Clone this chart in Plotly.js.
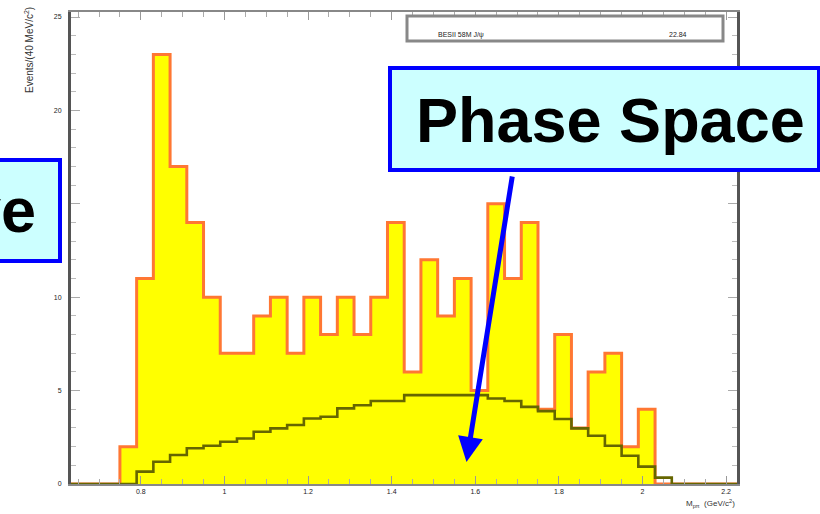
<!DOCTYPE html>
<html>
<head>
<meta charset="utf-8">
<script src="https://cdn.plot.ly/plotly-3.0.1.min.js"></script>
<style>html,body{margin:0;padding:0;background:#fff;}#plot{width:820px;height:514px;}</style>
</head>
<body>
<div id="plot"></div>
<script>
// Binning (GeV): 40 bins of 0.04 starting at 0.63
const binStart = 0.63;
const binWidth = 0.04;
// Data histogram, entries per bin
const dataCounts = [0, 0, 0,
  2, 11, 23, 17, 14, 10, 7, 7, 9, 10, 7, 10, 8, 10, 8, 10, 14, 6,
  12, 9, 11, 5, 15, 11, 14, 4, 8, 3, 6, 7, 2, 4,
  0, 0, 0, 0, 0, 0];
// Phase space expectation per bin
const phaseSpace = [0, 0, 0,
  0, 0.66, 1.19, 1.55, 1.91, 2.05, 2.26, 2.44, 2.80, 2.98, 3.16, 3.51, 3.60, 4.05, 4.22, 4.44, 4.44, 4.76,
  4.76, 4.76, 4.76, 4.76, 4.58, 4.44, 4.13, 3.90, 3.48, 2.98, 2.58, 2.05, 1.51, 0.93, 0.34,
  0, 0, 0, 0, 0];
const xTickVals = [0.8, 1.0, 1.2, 1.4, 1.6, 1.8, 2.0, 2.2];
const xTickText = ['0.8', '1', '1.2', '1.4', '1.6', '1.8', '2', '2.2'];
const yTickVals = [0, 5, 10, 15, 20, 25];
const yTickText = ['0', '5', '10', '15', '20', '25'];

const nb = dataCounts.length;
const edges = [];
for (let i = 0; i <= nb; i++) edges.push(+(binStart + i * binWidth).toFixed(4));

function stepXY(vals) {
  const xs = [edges[0]], ys = [0];
  for (let i = 0; i < vals.length; i++) { xs.push(edges[i]); ys.push(vals[i]); }
  xs.push(edges[vals.length]); ys.push(vals[vals.length - 1]);
  xs.push(edges[vals.length]); ys.push(0);
  return {x: xs, y: ys};
}
const h = stepXY(dataCounts);
const p = stepXY(phaseSpace);

const traces = [
  {x: h.x, y: h.y, type: 'scatter', mode: 'lines', line: {shape: 'hv', color: '#ff7733', width: 3},
   fill: 'tozeroy', fillcolor: '#ffff00', hoverinfo: 'skip'},
  {x: p.x, y: p.y, type: 'scatter', mode: 'lines', line: {shape: 'hv', color: '#666600', width: 2.6},
   hoverinfo: 'skip'}
];

const F = '"Liberation Sans", Arial, sans-serif';
const L = 71, R = 737, T = 12, B = 484;
const px = v => (v - L) / (R - L);
const py = v => (B - v) / (B - T);

const layout = {
  width: 820, height: 514,
  margin: {l: L, r: 820 - R, t: T, b: 514 - B, pad: 0},
  paper_bgcolor: '#ffffff', plot_bgcolor: '#ffffff',
  showlegend: false,
  font: {family: F, size: 7, color: '#333'},
  xaxis: {range: [0.633, 2.226], tickmode: 'array', tickvals: xTickVals, ticktext: xTickText,
    ticks: 'inside', ticklen: 8, tickwidth: 1, tickcolor: '#999',
    minor: {dtick: 0.05, tick0: 0, ticks: 'inside', ticklen: 5, tickcolor: '#aaa'},
    showline: true, linecolor: '#888', linewidth: 2, mirror: 'allticks',
    showgrid: false, zeroline: false, tickfont: {family: F, size: 7, color: '#222'}},
  yaxis: {range: [0, 25.27], tickmode: 'array', tickvals: yTickVals, ticktext: yTickText,
    ticks: 'inside', ticklen: 9, tickwidth: 1, tickcolor: '#aaa', ticklabelstandoff: 5,
    minor: {dtick: 1, tick0: 0, ticks: 'inside', ticklen: 5, tickcolor: '#bbb'},
    showline: true, linecolor: '#555', linewidth: 3, mirror: 'allticks',
    showgrid: false, zeroline: false, tickfont: {family: F, size: 7, color: '#222'}},
  shapes: [
    {type: 'rect', xref: 'paper', yref: 'paper', x0: px(407), x1: px(723), y0: py(41), y1: py(16),
     line: {color: '#888', width: 3}, fillcolor: '#ffffff'},
    {type: 'rect', xref: 'paper', yref: 'paper', x0: px(390), x1: px(819), y0: py(170), y1: py(68),
     line: {color: '#0000ff', width: 4}, fillcolor: '#ccffff'},
    {type: 'rect', xref: 'paper', yref: 'paper', x0: px(-20), x1: px(60), y0: py(261), y1: py(160),
     line: {color: '#0000ff', width: 4}, fillcolor: '#ccffff'}
  ],
  annotations: [
    {xref: 'paper', yref: 'paper', x: px(461), y: py(29), text: 'BESII 58M J/ψ', showarrow: false,
     font: {family: F, size: 7, color: '#222'}},
    {xref: 'paper', yref: 'paper', x: px(689), y: py(29), text: '22.84', showarrow: false,
     font: {family: F, size: 7, color: '#222'}},
    {xref: 'paper', yref: 'paper', x: px(29), y: py(5), text: 'Events/(40 MeV/c<sup>2</sup>)', textangle: -90,
     xanchor: 'center', yanchor: 'top', showarrow: false, font: {family: F, size: 10, color: '#333'}},
    {xref: 'paper', yref: 'paper', x: px(737), y: py(504), text: 'M<sub>pπ</sub>  (GeV/c<sup>2</sup>)',
     xanchor: 'right', yanchor: 'middle', showarrow: false, font: {family: F, size: 8, color: '#333'}},
    {xref: 'paper', yref: 'paper', x: px(610), y: py(120), text: '<b>Phase Space</b>', showarrow: false,
     xanchor: 'center', yanchor: 'middle', font: {family: F, size: 63, color: '#000'}},
    {xref: 'paper', yref: 'paper', x: px(38), y: py(210), text: '<b>ve</b>', showarrow: false,
     xanchor: 'right', yanchor: 'middle', font: {family: F, size: 63, color: '#000'}},
    {xref: 'paper', yref: 'paper', x: px(466.5), y: py(462), text: '', showarrow: true,
     ax: 46, ay: -287, arrowcolor: '#0000ff', arrowwidth: 5, arrowhead: 2, arrowsize: 1}
  ]
};

Plotly.newPlot('plot', traces, layout, {staticPlot: true, displayModeBar: false});
</script>
</body>
</html>
